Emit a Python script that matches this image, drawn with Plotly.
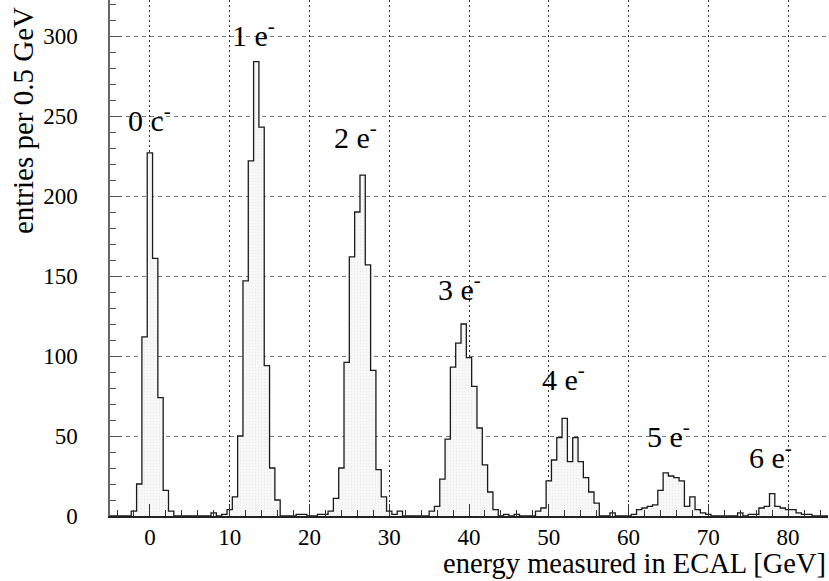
import plotly.graph_objects as go

# Histogram definition: 135 bins from -5 to 85 GeV
x_low = -5.0
x_high = 85.0
counts = [
    0, 0, 0, 0, 3, 20, 112, 227, 161, 74, 16, 3, 0, 0, 0,
    0, 0, 0, 0, 2, 0, 1, 4, 12, 50, 147, 222, 284, 243, 94,
    30, 10, 0, 0, 0, 1, 1, 0, 0, 1, 1, 3, 11, 30, 96,
    162, 190, 213, 157, 91, 29, 12, 3, 1, 3, 0, 0, 0, 0, 0,
    3, 6, 23, 48, 93, 108, 120, 99, 81, 55, 32, 15, 4, 0, 1,
    0, 1, 0, 0, 0, 3, 5, 22, 35, 49, 61, 34, 49, 34, 24,
    15, 8, 0, 0, 2, 0, 0, 0, 1, 4, 5, 6, 7, 16, 27,
    25, 24, 22, 6, 12, 4, 2, 1, 0, 0, 0, 0, 0, 2, 0,
    1, 1, 5, 6, 14, 6, 5, 4, 4, 2, 1, 1, 0, 0, 0,
]

peak_labels = ["0 c<sup>-</sup>", "1 e<sup>-</sup>", "2 e<sup>-</sup>", "3 e<sup>-</sup>",
               "4 e<sup>-</sup>", "5 e<sup>-</sup>", "6 e<sup>-</sup>"]
label_x = [0.0, 13.0, 25.8, 38.8, 51.9, 65.0, 77.8]
label_y = [249, 302, 238, 143, 87, 51, 38]

x_title = "energy measured in ECAL [GeV]"
y_title = "entries per 0.5 GeV"

nb = len(counts)
w = (x_high - x_low) / nb
edges = [x_low + i * w for i in range(nb + 1)]
centers = [x_low + (i + 0.5) * w for i in range(nb)]

FONT = "Liberation Serif"

fig = go.Figure()
fig.add_trace(go.Bar(
    x=centers, y=counts, width=w,
    marker=dict(color="#f7f7f7", line=dict(width=0),
                pattern=dict(shape=".", fgcolor="#dcdcdc", bgcolor="#f8f8f8", size=3, solidity=0.15)),
    hoverinfo="skip", showlegend=False,
))
step_x = edges[:-1] + [edges[-1]]
step_y = counts + [counts[-1]]
fig.add_trace(go.Scatter(
    x=step_x, y=step_y, mode="lines", line=dict(shape="hv", color="#1a1a1a", width=1.3),
    hoverinfo="skip", showlegend=False,
))

for t, lx, ly in zip(peak_labels, label_x, label_y):
    fig.add_annotation(x=lx, y=ly, text=t, showarrow=False, xanchor="center", yanchor="middle",
                       font=dict(family=FONT, size=30, color="black"))

fig.add_annotation(xref="paper", yref="paper", x=1.0, y=-0.092, text=x_title, showarrow=False,
                   xanchor="right", yanchor="middle", font=dict(family=FONT, size=28.5, color="black"))
fig.add_annotation(xref="paper", yref="paper", x=-0.122, y=0.99, text=y_title, showarrow=False,
                   textangle=-90, xanchor="center", yanchor="top",
                   font=dict(family=FONT, size=29, color="black"))

fig.update_layout(
    width=829, height=581,
    margin=dict(l=110, r=1, t=0, b=65),
    plot_bgcolor="white", paper_bgcolor="white",
    bargap=0,
    font=dict(family=FONT, size=23, color="black"),
    xaxis=dict(range=[x_low, x_high], tick0=0, dtick=10, ticks="inside", ticklen=12,
               tickcolor="#333", showline=True, linecolor="#222", linewidth=1.5,
               showgrid=True, gridcolor="#333", gridwidth=1, griddash="2px,3px",
               minor=dict(dtick=2, tick0=0, ticks="inside", ticklen=6, tickcolor="#333", showgrid=False),
               zeroline=False, tickfont=dict(family=FONT, size=23, color="black")),
    yaxis=dict(range=[0, 322.5], tick0=0, dtick=50, ticks="inside", ticklen=12,
               tickcolor="#555", showline=True, linecolor="#666", linewidth=1.5,
               showgrid=True, gridcolor="#777", gridwidth=1, griddash="4px,4px",
               minor=dict(dtick=10, ticks="inside", ticklen=6, tickcolor="#555", showgrid=False),
               zeroline=False, ticklabelstandoff=26, tickfont=dict(family=FONT, size=23, color="black")),
)

fig.write_html("out.html")
